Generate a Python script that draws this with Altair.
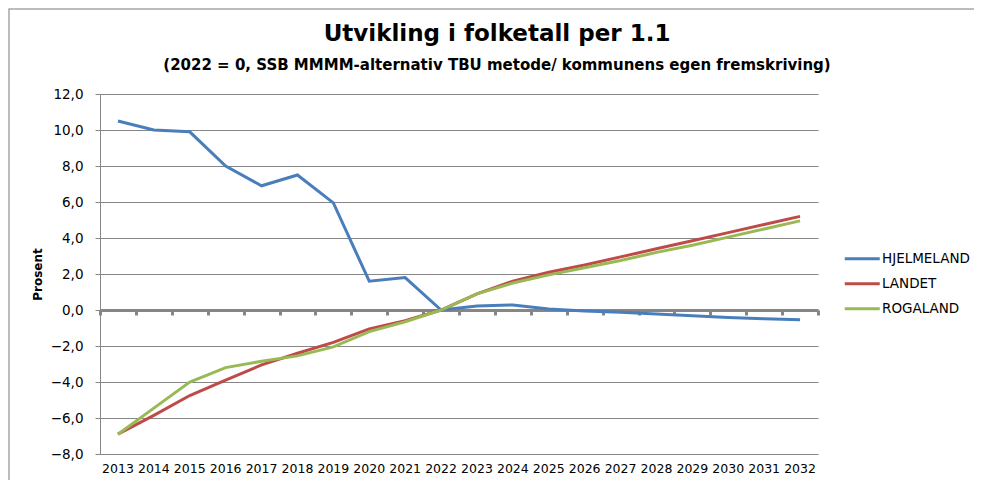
import altair as alt
import pandas as pd

years = [str(y) for y in range(2013, 2033)]
series_names = ["HJELMELAND", "LANDET", "ROGALAND"]
hjelmeland = [10.5, 10.0, 9.9, 8.0, 6.9, 7.5, 5.95, 1.6, 1.8, 0.0,
              0.22, 0.28, 0.05, -0.05, -0.12, -0.22, -0.32, -0.41, -0.49, -0.54]
landet = [-6.9, -5.85, -4.75, -3.9, -3.05, -2.4, -1.8, -1.05, -0.6, 0.0,
          0.9, 1.6, 2.1, 2.5, 2.95, 3.4, 3.85, 4.3, 4.75, 5.2]
rogaland = [-6.9, -5.45, -4.0, -3.2, -2.85, -2.55, -2.05, -1.2, -0.65, 0.0,
            0.9, 1.5, 1.95, 2.35, 2.75, 3.2, 3.6, 4.05, 4.5, 4.95]
colors = ["#4A7EBB", "#BE4B48", "#98B954"]
y_ticks = [-8, -6, -4, -2, 0, 2, 4, 6, 8, 10, 12]

rows = []
for name, vals in zip(series_names, [hjelmeland, landet, rogaland]):
    for yr, v in zip(years, vals):
        rows.append({"year": yr, "series": name, "value": v})
df = pd.DataFrame(rows)

FONT = "DejaVu Sans"
GRAY = "#868686"

x_scale = alt.Scale(type="band", domain=years, paddingInner=0, paddingOuter=0)
y_scale = alt.Scale(domain=[-8, 12], nice=False, zero=False)

base = alt.Chart(df)

# light gray frame round the whole chart (decoration)
border = alt.Chart(pd.DataFrame({"k": [0]})).mark_rect(
    filled=False, stroke="#A6A6A6", strokeWidth=1.5
).encode(x=alt.value(-91), x2=alt.value(885), y=alt.value(-85), y2=alt.value(420))

lines = base.mark_line(strokeWidth=3, clip=False).encode(
    x=alt.X("year:O", scale=x_scale, bandPosition=0.5,
            axis=alt.Axis(title=None, domain=False, ticks=False, labelAngle=0,
                          labelFont=FONT, labelFontSize=12.5, labelColor="#000000",
                          labelPadding=8, labelOverlap=False, grid=False)),
    y=alt.Y("value:Q", scale=y_scale,
            axis=alt.Axis(title="Prosent", values=y_ticks, format=".1f",
                          labelExpr="replace(format(datum.value, '.1f'), '.', ',')",
                          labelFont=FONT, labelFontSize=13.5, labelColor="#000000",
                          labelPadding=12,
                          titleFont=FONT, titleFontSize=12, titleFontWeight="bold",
                          titleColor="#000000", titlePadding=6,
                          domainColor=GRAY, domainWidth=1,
                          tickColor=GRAY, tickSize=5, tickWidth=1,
                          grid=True, gridColor=GRAY, gridWidth=1)),
    color=alt.Color("series:N", scale=alt.Scale(domain=series_names, range=colors),
                    legend=alt.Legend(title=None, orient="none", legendX=755.5, legendY=158,
                                      symbolType="M-3.5,0H3.5", symbolSize=100,
                                      symbolStrokeWidth=3, labelOffset=13,
                                      labelFont=FONT, labelFontSize=13.5,
                                      labelColor="#000000", rowPadding=10, padding=0)),
    order=alt.Order("year:O"),
)

zero_axis = base.mark_rule(opacity=0).encode(
    x=alt.X("year:O", scale=x_scale,
            axis=alt.Axis(title=None, labels=False, orient="bottom", offset=-144,
                          domain=True, domainColor=GRAY, domainWidth=3,
                          ticks=True, tickBand="extent", tickColor=GRAY,
                          tickSize=5, tickWidth=3, grid=False)),
)

chart = alt.layer(border, lines, zero_axis).resolve_axis(x="independent").properties(
    width=718,
    height=360,
    autosize=alt.AutoSizeParams(type="none"),
    padding={"left": 92, "top": 86, "right": 156, "bottom": 26},
    title=alt.TitleParams(
        text="Utvikling i folketall per 1.1",
        subtitle="(2022 = 0, SSB MMMM-alternativ TBU metode/ kommunens egen fremskriving)",
        font=FONT, fontSize=23, fontWeight="bold", color="#000000",
        subtitleFont=FONT, subtitleFontSize=15, subtitleFontWeight="bold",
        subtitleColor="#000000", subtitlePadding=12,
        anchor="middle", frame="group", dx=38, offset=-65,
    ),
).configure_view(stroke=None)

chart.save("out.html", embed_options={"renderer": "svg", "actions": False})
